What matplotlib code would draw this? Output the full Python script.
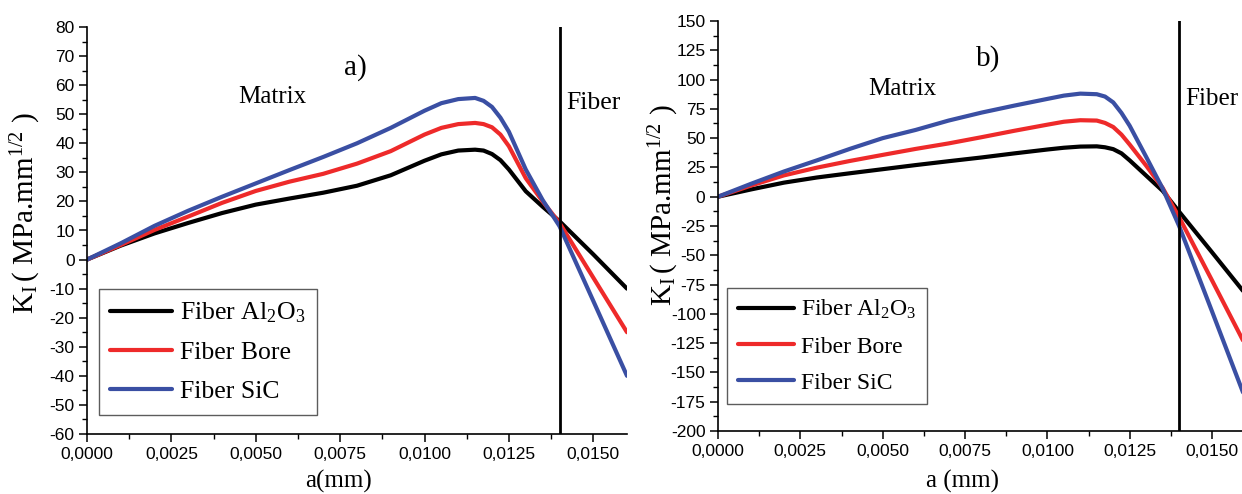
import matplotlib
matplotlib.use("Agg")
import matplotlib.pyplot as plt
from matplotlib.ticker import MultipleLocator, FuncFormatter

plt.rcParams["mathtext.fontset"] = "custom"
plt.rcParams["mathtext.rm"] = "Liberation Serif"
plt.rcParams["mathtext.it"] = "Liberation Serif:italic"
plt.rcParams["mathtext.bf"] = "Liberation Serif:bold"

SERIF = "Liberation Serif"
SANS = "Liberation Sans"

# crack length a (mm)
a_mm = [0.0, 0.001, 0.002, 0.003, 0.004, 0.005, 0.006, 0.007, 0.008, 0.009,
        0.010, 0.0105, 0.011, 0.0115, 0.01175, 0.012, 0.01225, 0.0125,
        0.013, 0.0135, 0.014, 0.015, 0.016]

# panel a) stress intensity factor K_I (MPa.mm^1/2)
ka_al2o3 = [0.0, 4.8, 9.0, 12.6, 16.0, 18.9, 21.0, 23.0, 25.4, 29.0,
            34.0, 36.2, 37.5, 37.8, 37.5, 36.3, 34.2, 31.0,
            23.5, 18.2, 13.2, 1.8, -10.0]
ka_bore = [0.0, 5.0, 10.2, 14.8, 19.5, 23.6, 26.8, 29.5, 33.0, 37.3,
           43.0, 45.3, 46.6, 47.0, 46.6, 45.5, 43.0, 39.0,
           28.0, 20.0, 12.6, -6.2, -25.0]
ka_sic = [0.0, 5.6, 11.6, 16.8, 21.6, 26.2, 30.8, 35.3, 40.0, 45.3,
          51.2, 53.8, 55.2, 55.6, 54.6, 52.5, 48.8, 44.0,
          31.0, 20.5, 11.5, -14.2, -40.0]

# panel b)
kb_al2o3 = [0.0, 6.2, 12.0, 16.4, 20.0, 23.5, 27.0, 30.3, 33.5, 37.0,
            40.3, 41.8, 42.8, 43.0, 42.2, 40.6, 37.0, 31.0,
            18.0, 5.0, -12.8, -47.5, -82.5]
kb_bore = [0.0, 9.5, 18.2, 24.8, 30.5, 35.7, 40.8, 45.5, 50.8, 56.3,
           61.5, 64.0, 65.3, 65.0, 63.0, 59.5, 53.0, 44.5,
           26.5, 7.5, -17.5, -71.5, -126.0]
kb_sic = [0.0, 11.0, 21.5, 31.0, 40.8, 50.0, 57.0, 65.0, 71.8, 77.8,
          83.5, 86.3, 88.0, 87.5, 85.5, 80.5, 71.5, 60.5,
          34.0, 7.0, -25.0, -98.0, -171.5]

series_names = ["Fiber Al$_2$O$_3$", "Fiber Bore", "Fiber SiC"]
series_colors = ["#000000", "#ee2a2a", "#3a4fa3"]
interface_a = 0.014

W, H = 1242, 494
fig = plt.figure(figsize=(W / 100, H / 100), dpi=100)


def px_axes(x0, x1, ytop, ybot):
    return fig.add_axes([x0 / W, (H - ybot) / H, (x1 - x0) / W, (ybot - ytop) / H])


def style_axes(ax, ylim, ymajor, yminor):
    ax.set_xlim(0, 0.016)
    ax.set_ylim(*ylim)
    for s in ("top", "right"):
        ax.spines[s].set_visible(False)
    for s in ("left", "bottom"):
        ax.spines[s].set_linewidth(1.2)
    ax.xaxis.set_major_locator(MultipleLocator(0.0025))
    ax.xaxis.set_minor_locator(MultipleLocator(0.00125))
    ax.yaxis.set_major_locator(MultipleLocator(ymajor))
    ax.yaxis.set_minor_locator(MultipleLocator(yminor))
    ax.xaxis.set_major_formatter(FuncFormatter(lambda v, p: f"{v:.4f}".replace(".", ",")))
    ax.yaxis.set_major_formatter(FuncFormatter(lambda v, p: f"{v:.0f}"))
    ax.tick_params(which="major", direction="out", length=6, width=1.1,
                   labelsize=12.5, pad=3)
    ax.tick_params(which="minor", direction="out", length=3.5, width=1.0)
    for lab in ax.get_xticklabels() + ax.get_yticklabels():
        lab.set_fontfamily(SANS)


def draw_panel(ax, ys, legend_anchor, legend_size):
    for y, name, col in zip(ys, series_names, series_colors):
        ax.plot(a_mm, y, color=col, lw=3.0, label=name, solid_capstyle="round",
                solid_joinstyle="round")
    ax.axvline(interface_a, color="k", lw=2.0, zorder=5)
    leg = ax.legend(loc="upper left", bbox_to_anchor=legend_anchor, borderaxespad=0,
                    prop={"family": SERIF, "size": legend_size}, frameon=True,
                    fancybox=False, edgecolor="#333333", handlelength=2.4,
                    handletextpad=0.3, labelspacing=0.62, borderpad=0.45)
    leg.get_frame().set_linewidth(1.0)


# panel a)
ax1 = px_axes(87, 627, 27, 434)
style_axes(ax1, (-60, 80), 10, 5)
draw_panel(ax1, [ka_al2o3, ka_bore, ka_sic], (0.022, 0.356), 18.5)
ax1.text(0.00548, 56, "Matrix", family=SERIF, fontsize=18, ha="center", va="center")
ax1.text(0.00795, 66, "a)", family=SERIF, fontsize=21, ha="center", va="center")
ax1.text(0.0150, 54, "Fiber", family=SERIF, fontsize=18.5, ha="center", va="center")

# panel b)
ax2 = px_axes(718, 1245, 21, 431)
style_axes(ax2, (-200, 150), 25, 12.5)
draw_panel(ax2, [kb_al2o3, kb_bore, kb_sic], (0.017, 0.350), 17)
ax2.text(0.00559, 92, "Matrix", family=SERIF, fontsize=18, ha="center", va="center")
ax2.text(0.0082, 118, "b)", family=SERIF, fontsize=21, ha="center", va="center")
ax2.text(0.0150, 83, "Fiber", family=SERIF, fontsize=18, ha="center", va="center")

# axis titles
ylabel = r"K$_{\mathrm{I}}$$\,$( MPa.mm$^{1/2}$ )"
fig.text(26 / W, 1 - 213 / H, ylabel, family=SERIF, fontsize=21, rotation=90,
         ha="center", va="center")
fig.text(664 / W, 1 - 205 / H, ylabel, family=SERIF, fontsize=21, rotation=90,
         ha="center", va="center")
fig.text(339 / W, 1 - 481 / H, "a(mm)", family=SERIF, fontsize=18, ha="center", va="center")
fig.text(963 / W, 1 - 481 / H, "a (mm)", family=SERIF, fontsize=18, ha="center", va="center")

fig.savefig("out.png", dpi=100)
